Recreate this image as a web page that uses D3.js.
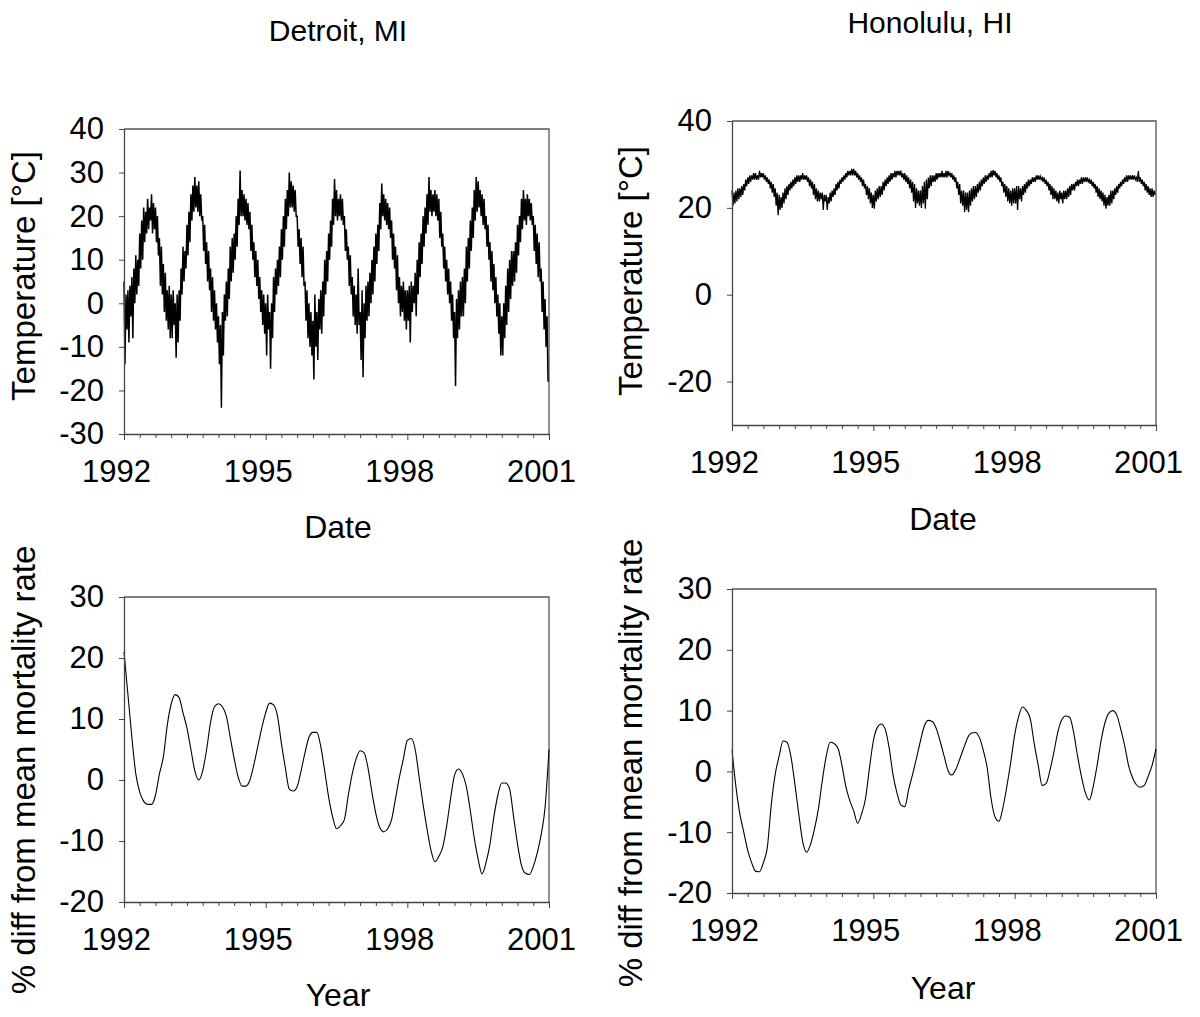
<!DOCTYPE html>
<html><head><meta charset="utf-8">
<script src="https://cdn.jsdelivr.net/npm/d3@7/dist/d3.min.js"></script>
<style>
body{margin:0;background:#fff}
text{font-family:"Liberation Sans",Arial,Helvetica,sans-serif;fill:#000}
</style>
</head><body>
<svg id="c" width="1200" height="1017"></svg>
<script>
// ---------- DATA ----------
const yearTicks = [1992, 1995, 1998, 2001];
const cityTitles = ["Detroit, MI", "Honolulu, HI"];
const tempTicksDetroit = [-30, -20, -10, 0, 10, 20, 30, 40];
const tempTicksHonolulu = [-20, 0, 20, 40];
const mortTicks = [-20, -10, 0, 10, 20, 30];

// Daily temperature band, read as 4 values per month (Jan 1992 - Dec 2000), deg C
const detroitTemp = [
 5,-14,2,-6, 3,-9,4,-3, 6,-8,8,0, 11,2,10,4, 16,8,19,10, 22,14,21,16, 24,17,22,19, 25,16,23,17, 22,14,20,11, 15,4,13,2, 9,-2,7,-4, 3,-6,4,-8,
 2,-8,3,-5, 0,-12.5,2,-9, 3,-4,8,2, 13,5,12,8, 18,11,21,14, 25,19,27,21, 29,22,27,21, 28,20,25,19, 20,12,18,9, 14,5,12,3, 8,-2,6,-4, 3,-6,0,-9,
 -3,-14,-5,-24, -2,-12,2,-4, 5,-3,8,1, 13,5,15,7, 16,10,20,13, 24,18,30.5,20, 26,20,25,19, 24,18,23,17, 21,12,18,10, 14,6,12,4, 10,1,6,-2, 3,-5,2,-7,
 0,-12,2,-6, -2,-15,0,-8, 6,-2,8,2, 10,4,13,6, 17,10,20,13, 24,17,26,20, 30,22,28,22, 27,21,26,20, 20,13,17,9, 15,6,13,4, 5,-4,3,-8, 0,-10,-2,-12,
 -4,-17.5,2,-10, -2,-13,1,-6, 3,-7,5,-3, 10,2,12,5, 16,10,19,13, 24,18,28.5,20, 26,19,24,20, 25,19,24,18, 20,12,17,10, 13,4,11,2, 6,-3,4,-5, 2,-7,8,-5,
 -2,-13,3,-17, 0,-8,4,-4, 5,-3,7,0, 10,2,13,5, 16,9,18,12, 23,17,27.5,20, 25,19,24,18, 23,17,22,15, 19,10,16,8, 13,3,11,0, 6,-3,4,-2, 5,-4,3,-6,
 3,-4,4,-9, 5,-2,4,0, 7,-3,10,2, 14,6,16,9, 20,13,22,16, 25,18,29,21, 26,20,25,21, 26,20,25,19, 24,15,21,13, 16,8,13,5, 10,2,8,0, 5,-4,2,-8,
 -2,-19,1,-8, 3,-6,5,-3, 6,-3,8,0, 13,5,15,8, 19,12,22,15, 26,19,29,21, 28,22,26,20, 25,18,24,17, 20,13,18,10, 14,5,12,3, 9,0,6,-3, 2,-7,0,-12,
 -3,-12,0,-8, 4,-5,8,-2, 10,1,12,4, 12,5,14,7, 18,11,20,14, 24,17,26,19, 24,18,25,20, 24,19,23,18, 20,12,18,9, 16,6,14,5, 8,-2,5,-6, 1,-10,-3,-18
];
const honoluluTemp = [
 24,20.5,23.5,21, 24,21.5,24.5,22, 24.5,22.5,25,23, 25.5,24,26.5,25, 27,25.5,27.5,26, 27.5,26.5,28,26.5, 28,26.5,27.5,26.5, 28.5,27,28,27, 28,26.5,27.5,26, 27,25.5,26.5,24.5, 26,23.5,25.5,22.5, 24.5,20.5,23.5,18.3,
 23,19.5,22.5,20, 23.5,21,24.5,22, 25,23,25.5,24, 26,24.5,26.5,25, 27,25.5,27.5,26, 27.5,26,27.5,26.5, 28,26.5,27.5,26.5, 27.5,26,27,25, 26.5,24.5,26,23, 25.5,22,24.5,21.5, 24,21.5,23.5,22, 23.5,19.5,23,21.5,
 23,19.5,22.5,21, 23.5,21.5,24,22.5, 24.5,23,25.5,24, 26,24.5,26.5,25.5, 27,26,27.5,26.5, 28,27,28.5,27.5, 28.5,27.5,29,27.5, 29,27.5,28.5,27, 28,26.5,27.5,26, 27,25,26.5,24.5, 25.5,23,25,22, 24.5,21,23.5,20,
 23,19.8,24,21.5, 24.5,22,25,22.5, 25,23,26,24, 26.5,25,27,25.5, 27.5,26,28,26.5, 28,27,28.5,27, 28.5,27.5,28.5,27.5, 28.6,27,28,26.5, 28,26,27.5,25.5, 27,24.5,26.5,23.5, 26,21.5,25.5,20, 24.5,21,24,20.5,
 24,20,25,21, 26,19.8,26.5,22, 27,24.5,27.5,25, 27.5,26,27.5,26, 28,26.5,28,27, 28,27,28.5,27, 28,27,28.5,27, 28.5,27.5,28,27, 28,26.5,27.5,26, 27,24.5,26,23, 25.5,21,24,20.5, 24,19,23.5,19.5,
 23.5,19,24,20.5, 24.5,21.5,25,22, 25,22.5,25.5,23.5, 26,24,26.5,25, 27,25.5,27.5,26, 27.5,26.5,28,27, 28.5,27,28.7,27.5, 28.5,27,28,26.5, 27.5,26,27,25, 26,23.5,25.5,22.5, 25,21.5,24.5,21, 24,20.5,24.5,21,
 24.5,21,25,19.5, 25,22,24.5,21.5, 25,23,25.5,23.5, 26,24.5,26.5,25, 26.5,25.5,27,26, 27,26,27.5,26.5, 27.5,26.5,27.3,26.5, 27,26,27,25.5, 26.5,25,26,24, 25.5,23,25,22, 24.5,22,24,21.5, 23.5,21,24,22,
 23.5,21,24,22, 24,22,24.5,22.5, 25,23,25.5,24, 25.5,24,26,25, 26.5,25,26.5,25.5, 27,25.5,27,26, 27,26,27,26, 26.5,25.5,26.5,25, 26,24.5,25.5,23.5, 25,22.5,24.5,22, 24,21.5,23.5,20.5, 23,19.8,22.5,20.5,
 23,20.5,24,21, 24,22,24.5,23, 25,23.5,25.5,24.5, 26,25,26.5,25.5, 27,26,27.5,26, 27.5,26.5,27.5,26.5, 27.5,26.5,27.5,26.5, 27,26,28.5,26, 27,25.5,26.5,25, 26,24,25.5,23.5, 25,23,24.5,22.5, 24.5,22.5,24,23
];

// Smoothed % difference from mean mortality rate, monthly (Jan 1992 - Jan 2001)
const detroitMort = [
 21,14,7,1,-2,-3.5,-4,-4,-2.5,1,3.8,9,
 12.5,14,13.5,11,8.5,5,1.5,0,1.5,5,9.5,12,
 12.5,12,10.5,7,3.5,0.5,-1,-1,0,2.5,5.5,8.5,
 11,12.6,12.3,10.5,6,2,-1.5,-1.8,-1.1,1.5,4.5,7,
 7.8,7.8,5.5,1.5,-2.8,-6,-8,-7.5,-6.5,-2.5,1,3.5,
 4.8,4.5,2,-2,-5.5,-7.8,-8.5,-8,-6.5,-3,0.5,3.5,
 6.5,6.8,5,0.5,-4,-8,-11.5,-13.4,-12.5,-11,-7.5,-3,
 0.8,1.8,1,-1.1,-5,-9.5,-13,-15.4,-13.5,-10.5,-6,-2.5,
 -0.5,-0.5,-1.5,-6,-10.5,-14,-15.3,-15.5,-14.2,-12,-9,-4.5,
 5
];
const honoluluMort = [
 3.5,-2.5,-7,-10,-13,-15,-16.4,-16.5,-15,-12.5,-5.5,-0.5,
 2.5,5,4.8,2.5,-2,-7,-11.5,-13.3,-12,-9.5,-6.2,-1.5,
 2.5,4.8,4.6,3.8,1,-2.5,-4.8,-6.5,-8.5,-7,-4.5,0.5,
 5,7.2,7.8,7,4,-0.5,-3.5,-5.5,-5.8,-3,-0.5,2.2,
 5,7.5,8.4,8.2,7.1,5,2.6,0.2,-0.6,0.3,2,3.8,
 5.5,6.3,6.4,5.6,3.5,0.6,-4.5,-7.5,-8.2,-6,-2.5,1.5,
 6,9,10.6,10,8.6,4.5,1,-2.3,-2,0.2,3.2,6.5,
 8.5,9.1,8.9,6.5,2.6,-0.8,-3.5,-4.7,-2.5,1,5,8,
 9.6,10,9.3,7,4.3,1,-1,-2.2,-2.6,-2.3,-0.8,1,
 3.7
];

// ---------- DRAWING ----------
const svg = d3.select("#c");
const FS = 31;
const TITLE_FS = 33;
const FONT = '"Liberation Sans",Arial,sans-serif';
const fmt = d => String(d);   // plain hyphen-minus like the original

const panels = [
  {x0:124, x1:549, y0:129, y1:434, dom:[-30,40], ticks:tempTicksDetroit, data:detroitTemp, perYear:48, sw:1.5,
   ytitle:"Temperature [°C]", ytx:35, yty:276, xtitle:"Date", xtx:338, xty:538},
  {x0:732, x1:1156, y0:121, y1:425, dom:[-30,40], ticks:tempTicksHonolulu, data:honoluluTemp, perYear:48, sw:1.3,
   ytitle:"Temperature [°C]", ytx:642, yty:271, xtitle:"Date", xtx:943, xty:530},
  {x0:124, x1:549, y0:597, y1:902, dom:[-20,30], ticks:mortTicks, data:detroitMort, perYear:12, sw:1.1,
   ytitle:"% diff from mean mortality rate", ytx:35, yty:770, xtitle:"Year", xtx:338, xty:1006},
  {x0:732, x1:1156, y0:589, y1:893, dom:[-20,30], ticks:mortTicks, data:honoluluMort, perYear:12, sw:1.1,
   ytitle:"% diff from mean mortality rate", ytx:642, yty:763, xtitle:"Year", xtx:943, xty:999}
];

const minorTicks = d3.range(0, 28).map(i => 1992 + i/3)
  .filter(v => Math.abs(v - Math.round(v)) > 1e-6 || (Math.round(v) - 1992) % 3 !== 0);

panels.forEach(p => {
  const x = d3.scaleLinear().domain([1992, 2001]).range([p.x0, p.x1]);
  const y = d3.scaleLinear().domain(p.dom).range([p.y1, p.y0]);
  const g = svg.append("g");

  // plot frame (top & right)
  g.append("path")
    .attr("d", `M${p.x0},${p.y0}H${p.x1}V${p.y1}`)
    .attr("fill", "none").attr("stroke", "#555").attr("stroke-width", 1.3);

  // data line
  const line = d3.line()
    .x((d, i) => x(1992 + i / p.perYear))
    .y(d => y(d))
    .curve(p.perYear === 12 ? d3.curveMonotoneX : d3.curveLinear);
  g.append("path").datum(p.data)
    .attr("d", line)
    .attr("fill", "none").attr("stroke", "#000")
    .attr("stroke-width", p.sw)
    .attr("stroke-linejoin", "miter");

  // minor x ticks
  const axMinor = g.append("g").attr("transform", `translate(0,${p.y1})`)
    .call(d3.axisBottom(x).tickValues(minorTicks).tickSize(4).tickSizeOuter(0).tickFormat(""));
  axMinor.select(".domain").remove();
  axMinor.selectAll("line").attr("stroke", "#444");

  // major x axis
  const axX = g.append("g").attr("transform", `translate(0,${p.y1})`)
    .call(d3.axisBottom(x).tickValues(yearTicks).tickSize(6).tickSizeOuter(0).tickFormat(d3.format("d")));
  axX.select(".domain").attr("stroke", "#444").attr("stroke-width", 1.3);
  axX.selectAll("line").attr("stroke", "#444");
  axX.selectAll("text")
    .attr("y", 48).attr("dy", 0).attr("dx", -8)
    .style("font-size", FS + "px").style("font-family", FONT).attr("fill", "#000");

  // y axis
  const axY = g.append("g").attr("transform", `translate(${p.x0},0)`)
    .call(d3.axisLeft(y).tickValues(p.ticks).tickSize(5).tickSizeOuter(0).tickPadding(15).tickFormat(fmt));
  axY.select(".domain").attr("stroke", "#444").attr("stroke-width", 1.3);
  axY.selectAll("line").attr("stroke", "#444");
  axY.selectAll("text")
    .style("font-size", FS + "px").style("font-family", FONT).attr("fill", "#000");

  // axis titles
  g.append("text").attr("x", p.xtx).attr("y", p.xty)
    .attr("text-anchor", "middle").style("font-size", "32px").text(p.xtitle);
  g.append("text")
    .attr("transform", `translate(${p.ytx},${p.yty}) rotate(-90)`)
    .attr("text-anchor", "middle").style("font-size", TITLE_FS + "px").text(p.ytitle);
});

// city titles
svg.append("text").attr("x", 338).attr("y", 41).attr("text-anchor", "middle")
  .style("font-size", "30px").text(cityTitles[0]);
svg.append("text").attr("x", 930).attr("y", 33).attr("text-anchor", "middle")
  .style("font-size", "30px").text(cityTitles[1]);
</script>
</body></html>
